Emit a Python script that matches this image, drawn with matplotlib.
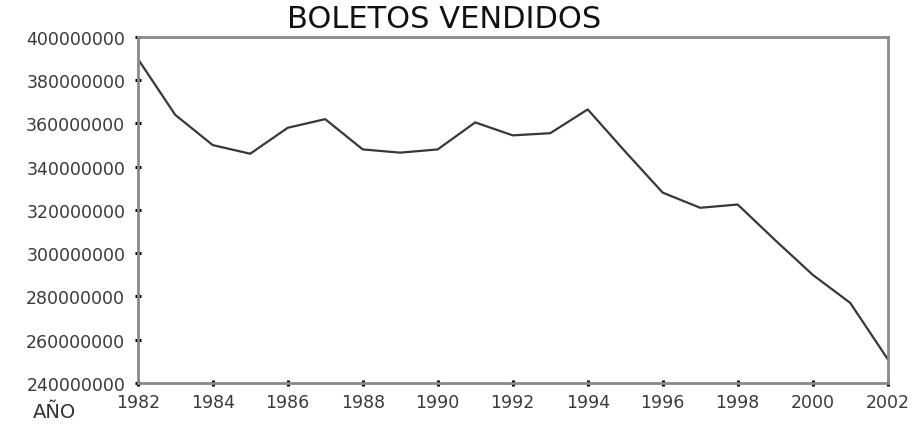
import numpy as np
from matplotlib import pyplot as plt

plt.rcParams['font.family'] = ['DejaVu Sans']

years = np.arange(1982, 2003)
boletos = [390e6, 364e6, 350e6, 346e6, 358e6, 362e6, 348e6, 346.5e6, 348e6,
           360.5e6, 354.5e6, 355.5e6, 366.5e6, 347e6, 328e6, 321e6, 322.5e6,
           306e6, 290e6, 277e6, 251e6]
xticks = np.arange(1982, 2003, 2)
yticks = np.arange(240e6, 400e6 + 1, 20e6)

fig = plt.figure(figsize=(9.18, 4.27), dpi=100)
ax = fig.add_axes([0.150, 0.101, 0.817, 0.810])

ax.plot(years, boletos, color='#383838', lw=1.6)

ax.set_xlim(1982, 2002)
ax.set_ylim(240e6, 400e6)
ax.set_xticks(xticks)
ax.set_yticks(yticks)
ax.set_xticklabels([str(x) for x in xticks])
ax.set_yticklabels(['%d' % y for y in yticks])
ax.tick_params(direction='inout', length=4, width=2.2, colors='black',
               labelsize=12.5, labelcolor='#3a3a3a')
ax.tick_params(axis='y', pad=7)
ax.tick_params(axis='x', pad=5)

for s in ax.spines.values():
    s.set_color('#8a8a8a')
    s.set_linewidth(2)

fig.text(0.484, 0.955, 'BOLETOS VENDIDOS', ha='center', va='center',
         fontsize=22, color='#111111')
fig.text(0.036, 0.035, 'AÑO', ha='left', va='center', fontsize=14,
         color='#333333')

fig.savefig('out.png', dpi=100)
